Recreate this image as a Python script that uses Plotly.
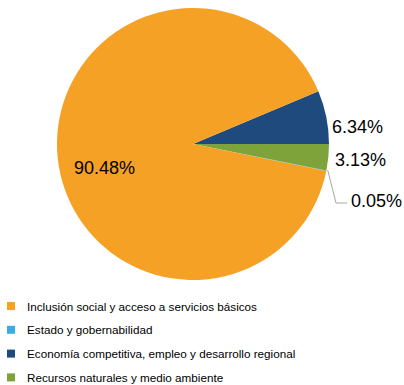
import plotly.graph_objects as go

# Data (legend order)
categories = [
    "Inclusión social y acceso a servicios básicos",
    "Estado y gobernabilidad",
    "Economía competitiva, empleo y desarrollo regional",
    "Recursos naturales y medio ambiente",
]
values = [90.48, 0.05, 6.34, 3.13]
colors = ["#F5A125", "#3AADE4", "#1F4A7E", "#7DA33A"]

# Drawing order of the slices (clockwise starting at the dark-blue slice)
pie_order = [2, 3, 1, 0]

W, H = 404, 385
CX, CY, R = 193, 144, 136


def px_x(x):
    return x / W


def px_y(y):
    return 1 - y / H


fig = go.Figure()

fig.add_trace(go.Pie(
    labels=[categories[i] for i in pie_order],
    values=[values[i] for i in pie_order],
    marker=dict(colors=[colors[i] for i in pie_order], line=dict(width=0)),
    sort=False,
    direction="clockwise",
    rotation=90 - 360 * values[2] / sum(values),
    textinfo="none",
    hoverinfo="label+percent",
    showlegend=False,
    domain=dict(x=[px_x(CX - R), px_x(CX + R)], y=[px_y(CY + R), px_y(CY - R)]),
))

# Percentage labels
fmt = lambda v: f"{v:.2f}%"
label_font = dict(family="Liberation Sans, Arial, sans-serif", size=18, color="#000000")
ann = [
    (values[0], 104, 168, "center"),
    (values[2], 330, 127, "left"),
    (values[3], 333, 160, "left"),
    (values[1], 349, 201, "left"),
]
for v, x, y, anchor in ann:
    fig.add_annotation(x=px_x(x), y=px_y(y), xref="paper", yref="paper",
                       text=fmt(v), showarrow=False, xanchor=anchor, yanchor="middle",
                       font=label_font)

# Leader line for the tiny slice
fig.add_shape(type="path", xref="paper", yref="paper",
              path=f"M {px_x(327.7)},{px_y(170)} L {px_x(336)},{px_y(203)} L {px_x(347)},{px_y(203)}",
              line=dict(color="#A6A6A6", width=1))

# Legend (drawn manually to keep the original order and spacing)
leg_font = dict(family="Liberation Sans, Arial, sans-serif", size=11.7, color="#000000")
LEG_Y0, LEG_STEP, SQ = 306, 23.8, 8
for i, (cat, col) in enumerate(zip(categories, colors)):
    yc = LEG_Y0 + i * LEG_STEP
    fig.add_shape(type="rect", xref="paper", yref="paper",
                  x0=px_x(7), x1=px_x(7 + SQ), y0=px_y(yc - SQ / 2), y1=px_y(yc + SQ / 2),
                  fillcolor=col, line=dict(width=0))
    fig.add_annotation(x=px_x(25), y=px_y(yc), xref="paper", yref="paper",
                       text=cat, showarrow=False, xanchor="left", yanchor="middle",
                       font=leg_font)

fig.update_layout(
    width=W, height=H,
    margin=dict(l=0, r=0, t=0, b=0, autoexpand=False),
    paper_bgcolor="white", plot_bgcolor="white",
    showlegend=False,
)

fig.write_html("out.html", config={"displayModeBar": False},
               post_script="document.body.style.margin='0';")
